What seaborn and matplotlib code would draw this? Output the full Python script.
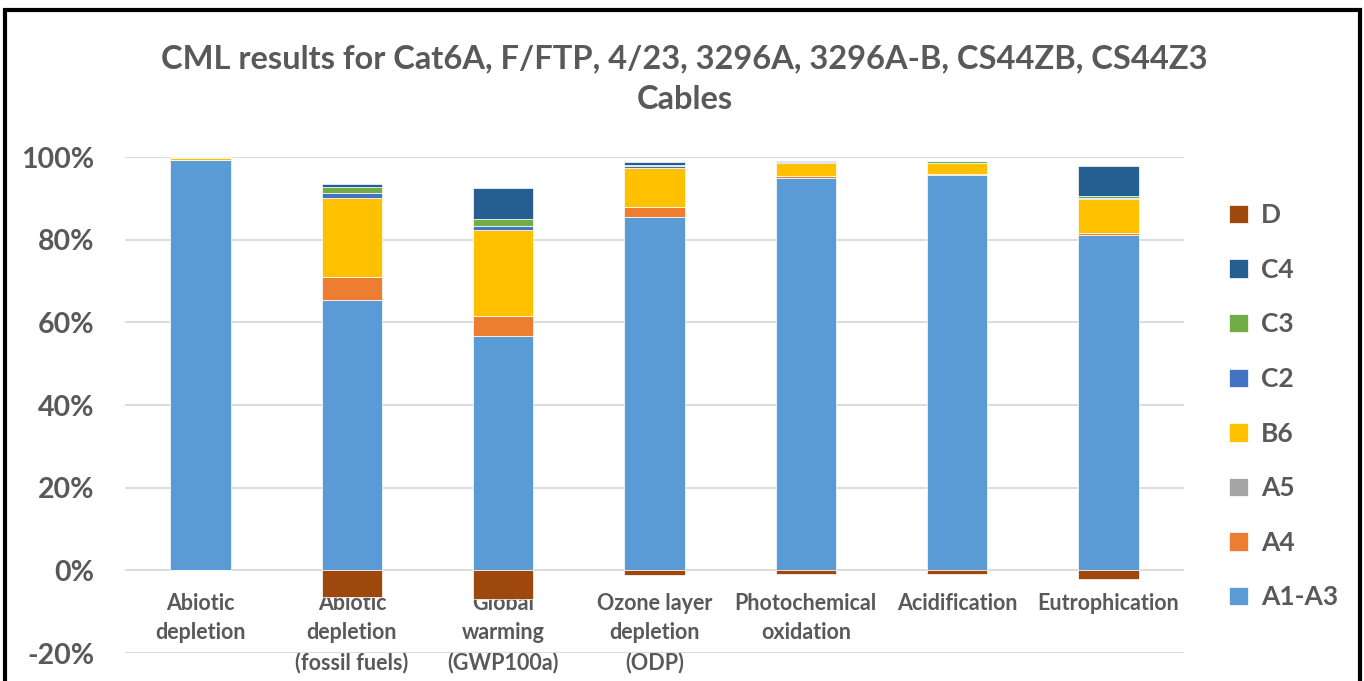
import matplotlib
matplotlib.use('Agg')
import matplotlib.pyplot as plt
import matplotlib.patches as patches
import seaborn as sns
import numpy as np

# Данные (проценты)
categories = ['Abiotic\ndepletion', 'Abiotic\ndepletion\n(fossil fuels)', 'Global\nwarming\n(GWP100a)',
              'Ozone layer\ndepletion\n(ODP)', 'Photochemical\noxidation', 'Acidification', 'Eutrophication']
stages = ['A1-A3', 'A4', 'A5', 'B6', 'C2', 'C3', 'C4', 'D']
a1_a3 = [99.2, 65.3, 56.7, 85.4, 95.0, 95.6, 81.1]
a4 = [0.1, 5.6, 4.9, 2.4, 0.5, 0.2, 0.6]
a5 = [0.0, 0.0, 0.0, 0.0, 0.0, 0.0, 0.0]
b6 = [0.5, 19.1, 20.7, 9.5, 3.0, 2.8, 8.2]
c2 = [0.05, 1.4, 1.1, 0.5, 0.2, 0.05, 0.3]
c3 = [0.05, 1.3, 1.6, 0.3, 0.1, 0.3, 0.4]
c4 = [0.1, 0.7, 7.5, 0.6, 0.2, 0.05, 7.2]
d = [0.0, -6.4, -7.0, -1.1, -0.9, -0.9, -2.1]
y_ticks = [-20, 0, 20, 40, 60, 80, 100]

colors = {'A1-A3': '#5B9BD5', 'A4': '#ED7D31', 'A5': '#A5A5A5', 'B6': '#FFC000',
          'C2': '#4472C4', 'C3': '#70AD47', 'C4': '#255E91', 'D': '#9E480E'}
series = {'A1-A3': a1_a3, 'A4': a4, 'A5': a5, 'B6': b6, 'C2': c2, 'C3': c3, 'C4': c4, 'D': d}

sns.set_style('white')
plt.rcParams['font.family'] = ['Lato', 'DejaVu Sans']
text_color = '#595959'

fig = plt.figure(figsize=(13.64, 6.81), dpi=100)
ax = fig.add_axes([125 / 1364, 1 - 653 / 681, (1184 - 125) / 1364, (653 - 157) / 681])

# Стековые столбцы
bottom = np.zeros(len(categories))
for st in stages:
  vals = np.array(series[st])
  if st == 'D':
    sns.barplot(x=categories, y=vals, color=colors[st], width=0.4, ax=ax, label=st, saturation=1,
                edgecolor='white', linewidth=0.5, bottom=0, zorder=2)
  else:
    sns.barplot(x=categories, y=vals, color=colors[st], width=0.4, ax=ax, label=st, saturation=1,
                edgecolor='white', linewidth=0.5, bottom=bottom, zorder=2)
    bottom = bottom + vals

ax.set_ylim(-20, 100)
ax.set_xlim(-0.5, 6.5)
ax.set_yticks(y_ticks)
ax.set_yticklabels([f'{v}%' for v in y_ticks])
ax.yaxis.grid(True, color='#D9D9D9', linewidth=1.3, zorder=0)
ax.set_axisbelow(True)
for s in ax.spines.values():
  s.set_visible(False)
ax.spines['bottom'].set_position(('data', 0))
ax.tick_params(axis='both', length=0)
ax.tick_params(axis='y', pad=22, labelsize=20.5, labelcolor=text_color)
ax.tick_params(axis='x', pad=16, labelsize=15.5, labelcolor=text_color)
for lab in ax.get_yticklabels():
  lab.set_fontweight('bold')
for lab in ax.get_xticklabels():
  lab.set_fontweight('bold')
  lab.set_linespacing(1.5)
  lab.set_zorder(5)
ax.set_xlabel('')
ax.set_ylabel('')

# Заголовок
fig.text(0.502, 1 - 79 / 681, 'CML results for Cat6A, F/FTP, 4/23, 3296A, 3296A-B, CS44ZB, CS44Z3\nCables',
         ha='center', va='center', fontsize=23.5, fontweight='bold', color=text_color, linespacing=1.5)

# Легенда
if ax.legend_:
  ax.legend_.remove()
handles, labels = ax.get_legend_handles_labels()
fig.legend(handles[::-1], labels[::-1], loc='upper left', bbox_to_anchor=(1216 / 1364, 1 - 190 / 681),
           frameon=False, labelcolor=text_color, handlelength=0.7, handleheight=0.7,
           handletextpad=0.5, labelspacing=1.16, borderpad=0, prop={'weight': 'bold', 'size': 19})

# Рамка
fig.patches.append(patches.Rectangle((5 / 1364, -0.2), 1355 / 1364, 1.2 - 10 / 681, transform=fig.transFigure,
                                     fill=False, edgecolor='black', linewidth=3, clip_on=False))

fig.savefig('out.png', dpi=100)
